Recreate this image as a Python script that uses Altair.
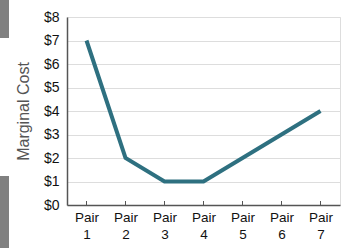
import altair as alt
import pandas as pd

pairs = ["Pair 1", "Pair 2", "Pair 3", "Pair 4", "Pair 5", "Pair 6", "Pair 7"]
cost = [7, 2, 1, 1, 2, 3, 4]

df = pd.DataFrame({"pair": pairs, "cost": cost})

W, H = 273, 188
FONT = "Liberation Sans"

x_enc = alt.X(
    "pair:N",
    sort=pairs,
    title=None,
    scale=alt.Scale(type="point", padding=0.5),
    axis=alt.Axis(
        labelExpr="split(datum.value, ' ')",
        labelAngle=0,
        labelFont=FONT,
        labelFontSize=13.5,
        labelColor="#111111",
        labelPadding=5,
        labelLineHeight=17,
        ticks=False,
        domainColor="#555555",
        domainWidth=1.5,
        grid=False,
    ),
)

y_enc = alt.Y(
    "cost:Q",
    title="Marginal Cost",
    scale=alt.Scale(domain=[0, 8], nice=False),
    axis=alt.Axis(
        values=[0, 1, 2, 3, 4, 5, 6, 7, 8],
        format="$,.0f",
        labelFont=FONT,
        labelFontSize=14,
        labelColor="#111111",
        labelPadding=8,
        ticks=False,
        domainColor="#555555",
        domainWidth=1.5,
        gridColor="#dddddd",
        gridWidth=1,
        titleFont=FONT,
        titleFontSize=16,
        titleFontWeight="normal",
        titleColor="#555555",
        titlePadding=12,
    ),
)

line = alt.Chart(df).mark_line(color="#2e7080", strokeWidth=4).encode(x=x_enc, y=y_enc)

ticks = alt.Chart(df).mark_rule(color="#555555", strokeWidth=1).encode(
    x=alt.X("pair:N", sort=pairs, scale=alt.Scale(type="point", padding=0.5)),
    y=alt.value(H - 4),
    y2=alt.value(H),
)

bars = pd.DataFrame({"y0": [-17, 159], "y1": [21, 231]})
side = alt.Chart(bars).mark_rect(color="#808080").encode(
    x=alt.value(-67),
    x2=alt.value(-58),
    y=alt.Y("y0:Q", scale=None),
    y2="y1:Q",
)

chart = alt.layer(line, ticks, side).properties(
    width=W,
    height=H,
    autosize=alt.AutoSizeParams(type="none"),
    padding={"left": 67, "top": 17, "right": 7, "bottom": 43},
).configure_view(stroke=None).configure(background="white")

chart.save("out.html", embed_options={"renderer": "svg", "actions": False})
